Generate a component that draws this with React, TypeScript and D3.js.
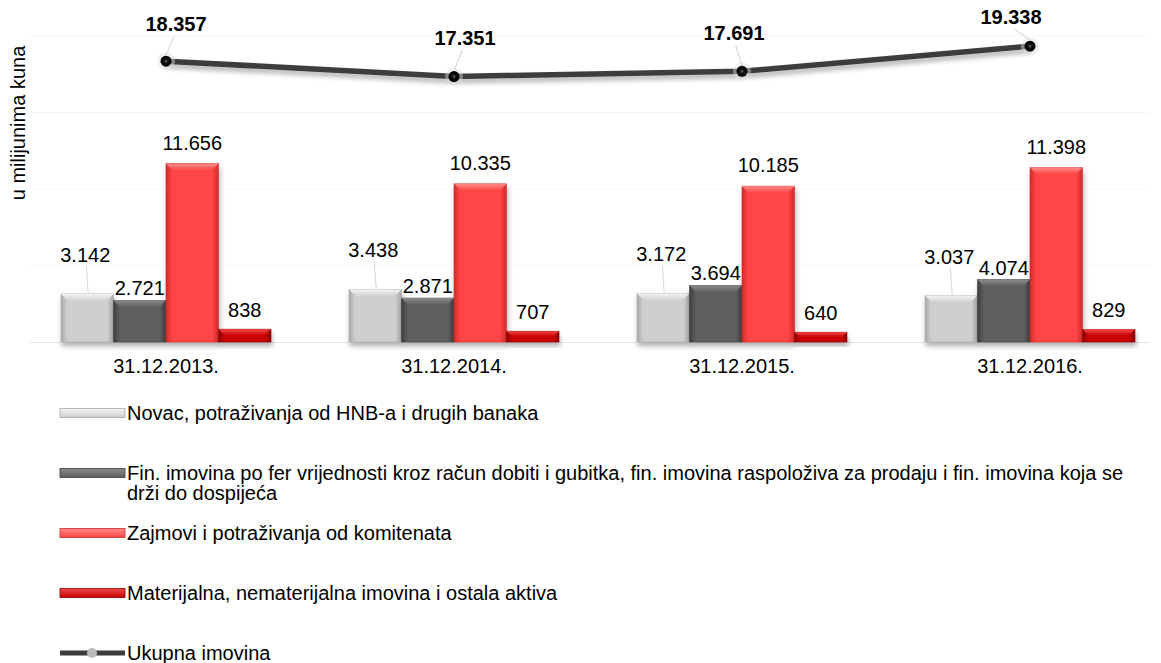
import { useEffect, useRef } from "react";
import * as d3 from "d3";

// categories and series (u milijunima kuna)
const categories = ["31.12.2013.", "31.12.2014.", "31.12.2015.", "31.12.2016."];
const novac = [3142, 3438, 3172, 3037];
const finImovina = [2721, 2871, 3694, 4074];
const zajmovi = [11656, 10335, 10185, 11398];
const materijalna = [838, 707, 640, 829];
const ukupno = [18357, 17351, 17691, 19338];
const gridTicks = [5000, 10000, 15000, 20000];

const seriesNames = [
  "Novac, potraživanja od HNB-a i drugih banaka",
  "Fin. imovina po fer vrijednosti kroz račun dobiti i gubitka, fin. imovina raspoloživa za prodaju i fin. imovina koja se|drži do dospijeća",
  "Zajmovi i potraživanja od komitenata",
  "Materijalna, nematerijalna imovina i ostala aktiva",
];
const lineName = "Ukupna imovina";

const barSeries = [novac, finImovina, zajmovi, materijalna];
// base, light, dark per series
const seriesColors = [
  ["#cfcfcf", "#f4f4f4", "#a9a9a9"],
  ["#5e5e5e", "#8a8a8a", "#3e3e3e"],
  ["#ff4444", "#ff8a8a", "#d42a2a"],
  ["#cc0000", "#ee4a4a", "#8c0000"],
];
// label offset above bar top (Excel placed them by hand)
const labelOffset = [32, 5, 14, 12];
// nudges for the total labels, dragged by hand in the original
const totalLabelDx = [10, 11, -8, -19];
const totalLabelDy = [30, 32, 31, 22];

const FONT = "'Liberation Sans', Arial, sans-serif";
const fmt = (v: number) => d3.format(",")(v).replace(/,/g, ".");

export default function App() {
  const svgRef = useRef<SVGSVGElement>(null);
  const width = 1161;
  const height = 663;

  useEffect(() => {
    if (!svgRef.current) return;
    const svg = d3.select(svgRef.current);
    svg.selectAll("*").remove();

    const x = d3.scaleBand<string>().domain(categories).range([22, 1174]);
    const xs = d3.scaleBand<number>().domain([0, 1, 2, 3]).range([-105, 105]);
    const y = d3.scaleLinear().domain([0, 20000]).range([342, 36]);

    const defs = svg.append("defs");
    seriesColors.forEach((c, i) => {
      const g = defs.append("linearGradient").attr("id", `bar${i}`).attr("x1", 0).attr("x2", 1).attr("y1", 0).attr("y2", 0);
      g.append("stop").attr("offset", "0%").attr("stop-color", c[2]);
      g.append("stop").attr("offset", "12%").attr("stop-color", c[0]);
      g.append("stop").attr("offset", "88%").attr("stop-color", c[0]);
      g.append("stop").attr("offset", "100%").attr("stop-color", c[2]);
      const t = defs.append("linearGradient").attr("id", `top${i}`).attr("x1", 0).attr("x2", 0).attr("y1", 0).attr("y2", 1);
      t.append("stop").attr("offset", "0%").attr("stop-color", c[1]);
      t.append("stop").attr("offset", "100%").attr("stop-color", c[0]);
    });
    const sh = defs.append("filter").attr("id", "shadow").attr("x", "-20%").attr("y", "-50%").attr("width", "140%").attr("height", "200%");
    sh.append("feDropShadow").attr("dx", 1).attr("dy", 4).attr("stdDeviation", 2.5).attr("flood-color", "#000").attr("flood-opacity", 0.3);
    const glow = defs.append("radialGradient").attr("id", "marker");
    glow.append("stop").attr("offset", "0%").attr("stop-color", "#777");
    glow.append("stop").attr("offset", "35%").attr("stop-color", "#111");
    glow.append("stop").attr("offset", "100%").attr("stop-color", "#000");

    // faint gridlines
    svg.append("g")
      .selectAll("line")
      .data(gridTicks)
      .join("line")
      .attr("x1", 30).attr("x2", 1150)
      .attr("y1", (d) => y(d)).attr("y2", (d) => y(d))
      .attr("stroke", "#f7f7f7").attr("stroke-width", 1);

    // baseline
    svg.append("line")
      .attr("x1", 30).attr("x2", 1150)
      .attr("y1", y(0) + 0.5).attr("y2", y(0) + 0.5)
      .attr("stroke", "#e6e6e6");

    // bars
    const groups = svg.append("g")
      .selectAll("g")
      .data(categories)
      .join("g")
      .attr("transform", (d) => `translate(${x(d)! + x.bandwidth() / 2},0)`);

    groups.each(function (_cat, ci) {
      const g = d3.select(this);
      barSeries.forEach((vals, si) => {
        const v = vals[ci];
        const x0 = xs(si)!;
        const w = xs.bandwidth();
        const top = y(v);
        const h = y(0) - top;
        const bevel = Math.min(7, h / 2);
        const bg = g.append("g").attr("filter", "url(#shadow)");
        bg.append("rect")
          .attr("x", x0).attr("y", top).attr("width", w).attr("height", h)
          .attr("fill", `url(#bar${si})`)
          .attr("stroke", seriesColors[si][2]).attr("stroke-width", 0.6);
        bg.append("path")
          .attr("d", `M${x0},${top}L${x0 + w},${top}L${x0 + w - bevel},${top + bevel}L${x0 + bevel},${top + bevel}Z`)
          .attr("fill", `url(#top${si})`);
        // labels
        const lx = x0 + w / 2 + (si === 0 ? -2 : 0);
        const ly = top - labelOffset[si];
        if (si === 0) {
          g.append("line")
            .attr("x1", lx + 1).attr("y1", ly + 4)
            .attr("x2", lx + 3).attr("y2", top)
            .attr("stroke", "#d8d8d8").attr("stroke-width", 1);
        }
        g.append("text")
          .attr("x", lx).attr("y", ly)
          .attr("text-anchor", "middle")
          .attr("font-family", FONT).attr("font-size", 20)
          .attr("fill", "#000")
          .text(fmt(v));
      });
    });

    // category labels
    svg.append("g")
      .selectAll("text")
      .data(categories)
      .join("text")
      .attr("x", (d) => x(d)! + x.bandwidth() / 2)
      .attr("y", 373)
      .attr("text-anchor", "middle")
      .attr("font-family", FONT).attr("font-size", 20)
      .text((d) => d);

    // total line
    const pts = categories.map((c, i) => [x(c)! + x.bandwidth() / 2, y(ukupno[i])] as [number, number]);
    svg.append("path")
      .attr("d", d3.line()(pts))
      .attr("fill", "none")
      .attr("stroke", "#3c3c3c")
      .attr("stroke-width", 5.5)
      .attr("filter", "url(#shadow)");
    pts.forEach(([px, py], i) => {
      const tx = px + totalLabelDx[i];
      const ty = py - totalLabelDy[i];
      svg.append("line")
        .attr("x1", tx - totalLabelDx[i] * 0.2).attr("y1", ty + 5)
        .attr("x2", px).attr("y2", py - 6)
        .attr("stroke", "#d0d0d0").attr("stroke-width", 1);
      svg.append("circle").attr("cx", px).attr("cy", py).attr("r", 9).attr("fill", "#ddd").attr("opacity", 0.45);
      svg.append("circle").attr("cx", px).attr("cy", py).attr("r", 5.5).attr("fill", "url(#marker)");
      svg.append("text")
        .attr("x", tx).attr("y", ty)
        .attr("text-anchor", "middle")
        .attr("font-family", FONT).attr("font-size", 20).attr("font-weight", "bold")
        .text(fmt(ukupno[i]));
    });

    // y axis title
    svg.append("text")
      .attr("transform", "translate(25,123) rotate(-90)")
      .attr("text-anchor", "middle")
      .attr("font-family", FONT).attr("font-size", 20)
      .text("u milijunima kuna");

    // legend
    const legY = [413, 473, 533, 593];
    const leg = svg.append("g").attr("font-family", FONT).attr("font-size", 20);
    seriesNames.forEach((name, i) => {
      const ly = legY[i];
      leg.append("rect")
        .attr("x", 60).attr("y", ly - 4.5).attr("width", 65).attr("height", 9)
        .attr("fill", `url(#top${i})`)
        .attr("stroke", seriesColors[i][2]).attr("stroke-width", 0.8);
      const t = leg.append("text").attr("x", 127).attr("y", ly + 7);
      name.split("|").forEach((part, k) => {
        t.append("tspan").attr("x", 127).attr("dy", k === 0 ? 0 : 20).text(part);
      });
    });
    const ly5 = 653;
    leg.append("line").attr("x1", 60).attr("x2", 125).attr("y1", ly5).attr("y2", ly5).attr("stroke", "#3c3c3c").attr("stroke-width", 5);
    leg.append("circle").attr("cx", 92).attr("cy", ly5).attr("r", 5).attr("fill", "#bbb");
    leg.append("text").attr("x", 127).attr("y", ly5 + 7).text(lineName);
  }, []);

  return (
    <svg
      ref={svgRef}
      width={width}
      height={height}
      style={{ position: "absolute", left: 0, top: 0, background: "#fff" }}
    />
  );
}
